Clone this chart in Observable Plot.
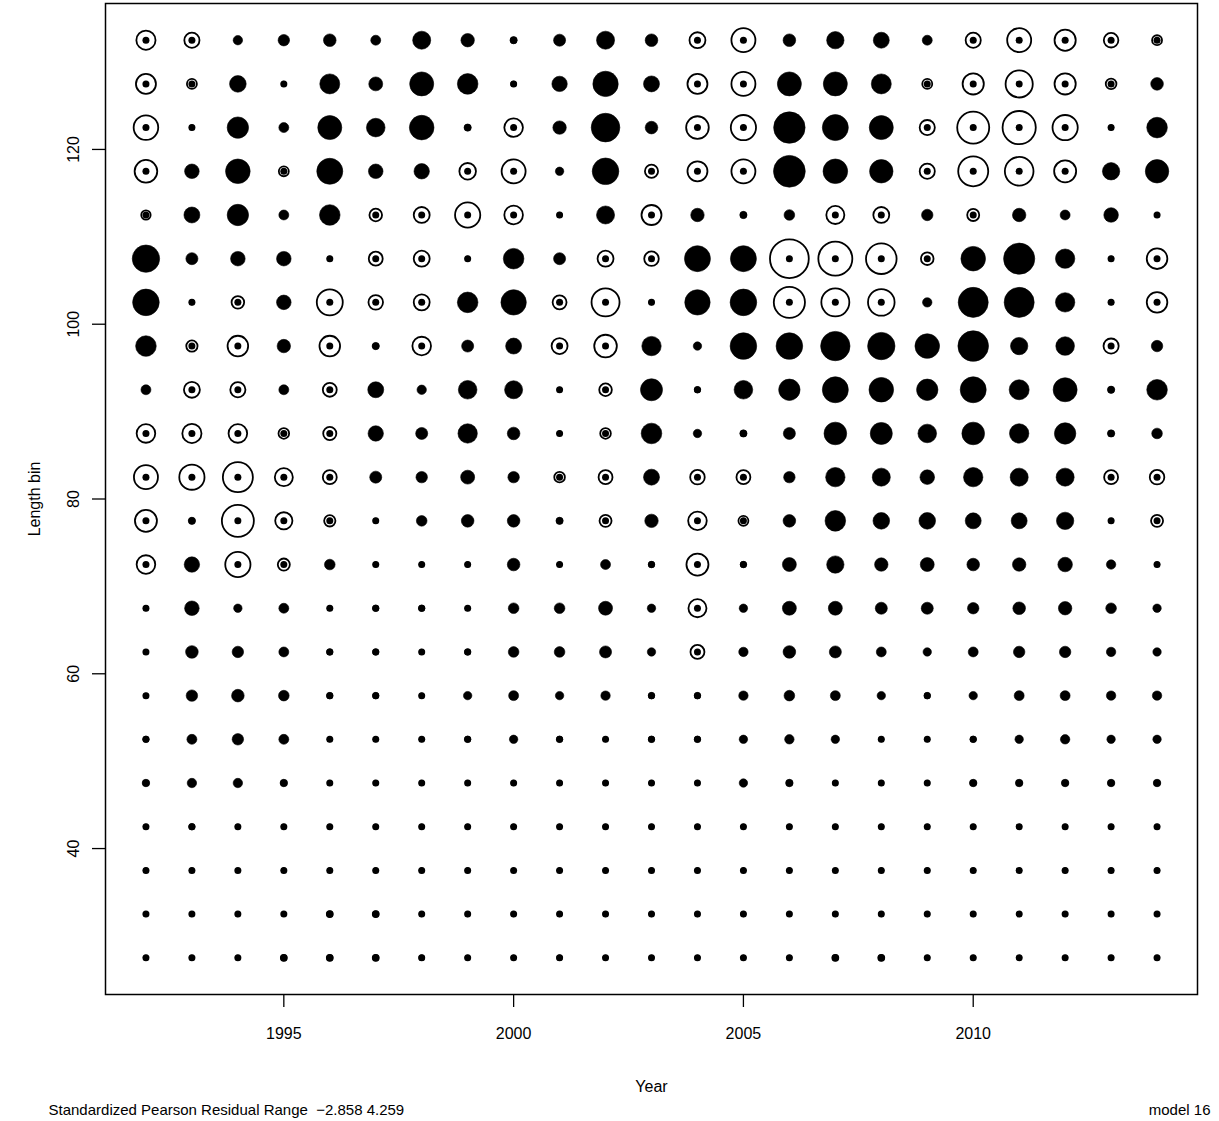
<!DOCTYPE html>
<html><head><meta charset="utf-8">
<script src="https://cdn.jsdelivr.net/npm/d3@7"></script>
<script src="https://cdn.jsdelivr.net/npm/@observablehq/plot@0.6"></script>
<style>html,body{margin:0;padding:0;background:#fff;overflow:hidden}</style>
</head><body><div id="chart"></div>
<script>
const years = [1992,1993,1994,1995,1996,1997,1998,1999,2000,2001,2002,2003,2004,2005,2006,2007,2008,2009,2010,2011,2012,2013,2014];
const bins = [27.5,32.5,37.5,42.5,47.5,52.5,57.5,62.5,67.5,72.5,77.5,82.5,87.5,92.5,97.5,102.5,107.5,112.5,117.5,122.5,127.5,132.5];
const xTicks = [1995, 2000, 2005, 2010];
const yTicks = [40, 60, 80, 100, 120];
const residualRange = [-2.858, 4.259];

// Standardized Pearson residuals, one array per length bin, years 1992..2014
const len132_5 = [1.04,0.65,-0.25,-0.37,-0.45,-0.28,-0.92,-0.51,-0.15,-0.41,-0.92,-0.45,0.72,1.63,-0.45,-0.85,-0.72,-0.28,0.65,1.63,1.27,0.60,0.28];
const len127_5 = [1.13,0.28,-0.78,-0.08,-1.13,-0.55,-1.63,-1.20,0.06,-0.67,-1.82,-0.72,1.13,1.63,-1.63,-1.63,-1.13,0.28,1.27,2.09,1.27,0.32,-0.45];
const len122_5 = [1.71,0.05,-1.29,-0.28,-1.63,-0.98,-1.71,-0.15,0.98,-0.51,-2.32,-0.45,1.45,1.80,-2.80,-1.91,-1.63,0.65,2.90,3.12,1.80,-0.08,-1.20];
const len117_5 = [1.45,-0.60,-1.71,0.28,-1.91,-0.60,-0.67,0.78,1.63,-0.20,-2.00,0.49,1.13,1.63,-2.858,-1.71,-1.55,0.65,2.55,2.32,1.37,-0.85,-1.55];
const len112_5 = [0.25,-0.72,-1.29,-0.28,-1.20,0.45,0.72,1.80,0.98,-0.08,-0.92,1.13,-0.51,-0.15,-0.32,0.92,0.72,-0.37,0.41,-0.51,-0.28,-0.60,-0.08];
const len107_5 = [-2.12,-0.41,-0.60,-0.60,-0.08,0.55,0.72,-0.08,-1.20,-0.41,0.72,0.60,-1.91,-1.91,4.259,3.27,2.65,0.45,-1.71,-2.75,-1.06,-0.08,1.20];
const len102_5 = [-2.00,0.05,0.45,-0.60,1.91,0.60,0.72,-1.20,-1.82,0.55,2.22,0.05,-1.82,-2.00,2.75,2.22,2.00,-0.25,-2.55,-2.55,-1.06,-0.08,1.20];
const len97_5  = [-1.20,0.36,1.20,-0.51,1.20,-0.15,0.98,-0.41,-0.72,0.72,1.45,-1.06,-0.20,-2.00,-2.00,-2.44,-2.12,-1.71,-2.65,-0.85,-0.98,0.65,-0.37];
const len92_5  = [-0.28,0.72,0.65,-0.28,0.55,-0.72,-0.25,-0.98,-0.92,-0.08,0.45,-1.37,-0.12,-0.98,-1.29,-1.91,-1.71,-1.29,-1.91,-1.13,-1.63,-0.15,-1.20];
const len87_5  = [0.98,1.04,0.98,0.32,0.49,-0.67,-0.41,-1.06,-0.45,-0.08,0.32,-1.20,-0.20,-0.15,-0.41,-1.45,-1.37,-0.98,-1.45,-1.06,-1.29,-0.15,-0.32];
const len82_5  = [1.63,1.80,2.55,0.92,0.55,-0.41,-0.37,-0.55,-0.37,0.32,0.55,-0.72,0.60,0.55,-0.37,-1.06,-0.92,-0.60,-1.06,-0.92,-0.92,0.55,0.60];
const len77_5  = [1.37,-0.15,2.90,0.84,0.36,0.05,-0.32,-0.45,-0.45,-0.15,0.41,-0.51,0.98,0.28,-0.45,-1.20,-0.78,-0.78,-0.72,-0.72,-0.85,-0.08,0.41];
const len72_5  = [0.98,-0.67,1.80,0.41,-0.32,-0.08,-0.08,0.05,-0.45,-0.08,-0.28,-0.12,1.37,-0.12,-0.55,-0.85,-0.51,-0.55,-0.45,-0.51,-0.60,-0.25,-0.08];
const len67_5  = [0.05,-0.60,-0.20,-0.28,-0.08,-0.12,-0.12,-0.08,-0.32,-0.32,-0.55,-0.20,0.92,-0.20,-0.55,-0.55,-0.41,-0.41,-0.37,-0.45,-0.51,-0.32,-0.20];
const len62_5  = [0.05,-0.45,-0.37,-0.28,-0.12,-0.12,-0.08,-0.12,-0.32,-0.32,-0.41,-0.20,0.55,-0.25,-0.45,-0.41,-0.28,-0.20,-0.28,-0.37,-0.37,-0.25,-0.20];
const len57_5  = [0.05,-0.37,-0.45,-0.32,-0.12,-0.12,-0.08,-0.20,-0.28,-0.20,-0.25,-0.12,-0.12,-0.25,-0.32,-0.28,-0.20,-0.12,-0.20,-0.28,-0.28,-0.25,-0.25];
const len52_5  = [-0.12,-0.28,-0.37,-0.28,-0.08,-0.08,-0.08,-0.12,-0.20,-0.12,-0.08,-0.12,-0.12,-0.20,-0.25,-0.20,-0.08,-0.08,-0.12,-0.20,-0.25,-0.20,-0.20];
const len47_5  = [-0.16,-0.25,-0.25,-0.16,-0.08,-0.08,-0.08,-0.08,-0.08,-0.08,-0.08,-0.08,-0.08,-0.20,-0.16,-0.08,-0.08,-0.08,-0.16,-0.16,-0.16,-0.16,-0.16];
const len42_5  = [-0.08,-0.12,-0.08,-0.08,-0.08,-0.08,-0.08,-0.08,-0.08,-0.08,-0.08,-0.08,-0.08,-0.08,-0.08,-0.08,-0.08,-0.08,-0.08,-0.08,-0.08,-0.08,-0.08];
const len37_5  = [-0.08,-0.08,-0.06,-0.08,-0.08,-0.08,-0.08,-0.08,-0.06,-0.08,-0.08,-0.08,-0.08,-0.08,-0.08,-0.06,-0.08,-0.08,-0.08,-0.08,-0.08,-0.08,-0.08];
const len32_5  = [-0.08,-0.08,-0.08,-0.06,0.10,0.10,-0.08,-0.08,-0.08,-0.08,-0.08,-0.08,-0.08,-0.08,-0.06,-0.08,-0.08,-0.08,-0.08,-0.08,-0.08,-0.08,-0.08];
const len27_5  = [-0.08,-0.08,-0.08,0.10,0.10,0.10,0.06,-0.08,-0.08,0.06,-0.08,-0.08,-0.08,-0.08,-0.08,0.10,0.10,-0.08,-0.08,-0.08,-0.08,-0.08,-0.08];

const rows = [len27_5,len32_5,len37_5,len42_5,len47_5,len52_5,len57_5,len62_5,len67_5,len72_5,len77_5,len82_5,len87_5,len92_5,len97_5,len102_5,len107_5,len112_5,len117_5,len122_5,len127_5,len132_5];
const data = [];
bins.forEach((b, i) => years.forEach((y, j) => data.push({year: y, bin: b, res: rows[i][j]})));
const neg = data.filter(d => d.res < 0);
const pos = data.filter(d => d.res > 0);

const font = "'Liberation Sans', Arial, Helvetica, sans-serif";
const fs = 16;
const fsNote = 15;
const chart = Plot.plot({
  width: 1219,
  height: 1121,
  marginLeft: 105,
  marginRight: 22,
  marginTop: 3,
  marginBottom: 127,
  style: {fontFamily: font, fontSize: fs + "px", background: "white", color: "black"},
  x: {domain: [1991.12, 2014.88], axis: null},
  y: {domain: [23.3, 136.7], axis: null},
  r: {type: "sqrt", domain: [0, residualRange[1]], range: [0, 19.4]},
  marks: [
    Plot.dot(neg, {x: "year", y: "bin", r: d => Math.abs(d.res), fill: "black", stroke: "black", strokeWidth: 0.6}),
    Plot.dot(pos, {x: "year", y: "bin", r: d => d.res, fill: "white", stroke: "black", strokeWidth: 1.8}),
    Plot.dot(data, {x: "year", y: "bin", r: 3.5, fill: "black"}),
    Plot.frame({stroke: "black", strokeWidth: 1.5}),
    Plot.axisX(xTicks, {anchor: "bottom", tickSize: 13, tickPadding: 20, tickFormat: d => String(d), label: null, fontSize: fs, strokeWidth: 1.3}),
    Plot.axisY(yTicks, {anchor: "left", tickSize: 13, tickPadding: 14, tickRotate: -90, tickFormat: d => String(d), label: null, fontSize: fs, strokeWidth: 1.3}),
    Plot.text(["Length bin"], {frameAnchor: "left", dx: -66, rotate: -90, textAnchor: "middle", lineAnchor: "bottom", fontSize: fs}),
    Plot.text(["Year"], {frameAnchor: "bottom", dy: 97, textAnchor: "middle", lineAnchor: "bottom", fontSize: fs}),
    Plot.text(["Standardized Pearson Residual Range \u00a0" + "\u2212" + Math.abs(residualRange[0]).toFixed(3) + " " + residualRange[1].toFixed(3)], {frameAnchor: "bottom-left", dx: -57, dy: 120, textAnchor: "start", lineAnchor: "bottom", fontSize: fsNote}),
    Plot.text(["model 16"], {frameAnchor: "bottom-right", dx: 13, dy: 120, textAnchor: "end", lineAnchor: "bottom", fontSize: fsNote})
  ]
});
document.getElementById("chart").appendChild(chart);
</script>
</body></html>
